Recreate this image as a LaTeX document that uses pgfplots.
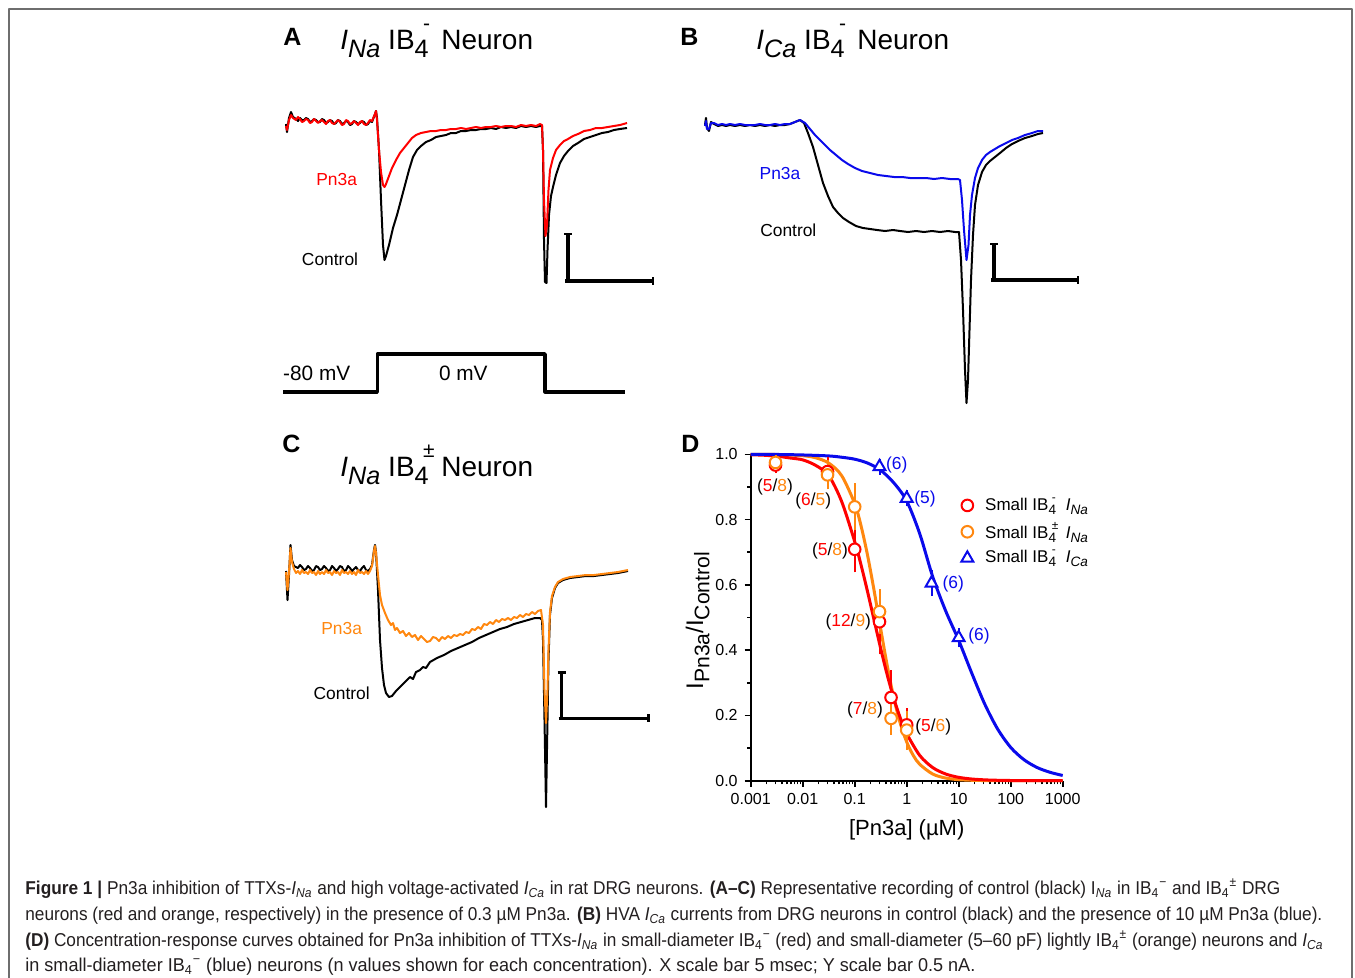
\documentclass[border=0pt]{standalone}
\usepackage{pgfplots}
\pgfplotsset{compat=1.18}
\usepackage{graphicx}
\usepackage{fontspec}
\setmainfont{Liberation Sans}
\definecolor{ored}{RGB}{255,0,0}
\definecolor{oorange}{RGB}{255,135,15}
\definecolor{oblue}{RGB}{10,10,235}
\definecolor{capgray}{RGB}{35,31,32}
\definecolor{framegray}{RGB}{110,110,110}
\newcommand\tsub[1]{\raisebox{-0.45ex}{\scalebox{0.8}{#1}}}
\newcommand\tsup[1]{\raisebox{1.0ex}{\scalebox{0.7}{#1}}}
\newcommand\stk[2]{\makebox[0pt][l]{\hspace{0.2em}\tsup{#1}}\tsub{#2}}
\newcommand\Tsub[1]{\raisebox{-0.55ex}{\scalebox{0.9}{#1}}}
\newcommand\Tsup[1]{\raisebox{1.25ex}{\scalebox{0.75}{#1}}}
\newcommand\Tstk[2]{\makebox[0pt][l]{\hspace{0.3em}\Tsup{#1}}\Tsub{#2}}
\newcommand\lfont{\fontsize{8.7}{10}\selectfont}
\newcommand\tfont{\fontsize{14}{16}\selectfont}
\newcommand\pfont{\fontsize{12.5}{14}\selectfont\bfseries}
\newsavebox\capbox
\newcommand\fitline[2]{\sbox\capbox{#2}\pgfmathsetmacro\capr{#1/\the\wd\capbox}\scalebox{\capr}[1]{\usebox\capbox}}
\newcommand\Ina{\textit{I}\textsubscript{\textit{Na}}}
\newcommand\Ica{\textit{I}\textsubscript{\textit{Ca}}}
\newcommand\IBm{IB\textsubscript{4}\textsuperscript{−}}
\newcommand\IBpm{IB\textsubscript{4}\textsuperscript{±}}
\begin{document}
\begin{tikzpicture}
\begin{axis}[at={(0,0)}, anchor=north west, scale only axis,
  width=677.5pt, height=489pt, xmin=0, xmax=1355, ymin=0, ymax=978,
  y dir=reverse, hide axis, clip=false, no markers,
  every axis plot/.append style={line join=round}]
% frame
\addplot[framegray, line width=0.6pt] coordinates {(9,978) (9,9) (1352,9) (1352,978)};
% ---------- panel A ----------
\addplot[black, line width=1pt] coordinates {
(286,124) (287,132) (289,118) (291,112) (293,117) (296,119) (298,121) (300,118) (302,120) (304,120) (306,118) (308,119)
(310,122) (312,121) (314,119) (316,120) (318,122) (320,122) (322,119) (324,120) (326,123) (328,122) (330,120) (332,121) (334,124) (336,123) (338,120) (340,121) (342,124) (344,123)
(346,121) (348,122) (350,125) (352,124) (354,121) (356,122) (358,124) (360,123) (362,121) (364,122) (366,125) (368,124) (370,121) (372,122) (375,114) (376,111)
(377,118) (379,150) (381,200) (383,245) (384.5,260) (386,256) (389,245) (393,228) (397,215)
(401,200) (405,185) (409,170) (413,157) (417,150) (421,146) (426,142) (431,140) (436,137)
(441,136) (446,135) (451,133) (456,133) (461,131) (466,131) (471,130) (476,130) (481,129)
(486,129) (491,128) (496,129) (501,127) (506,128) (511,127) (516,128) (521,126) (526,127)
(531,126) (536,127) (540,126) (542,126) (543,150) (544,240) (545,282) (546.5,283) (547.5,250)
(549,215) (551,196) (553,187) (556,175) (560,163) (564,156) (568,151) (573,146) (578,143)
(584,139) (590,137) (596,135) (602,133) (608,132) (614,130) (620,129) (627,128)};
\addplot[ored, line width=1pt] coordinates {
(286,126) (287,130) (289,120) (291,115) (293,118) (296,120) (298,117) (300,119) (302,122) (304,121) (306,119) (308,120)
(310,123) (312,122) (314,119) (316,121) (318,123) (320,121) (322,120) (324,122) (326,124) (328,121) (330,120) (332,123) (334,124) (336,122) (338,120) (340,122) (342,125) (344,124)
(346,120) (348,121) (350,124) (352,123) (354,121) (356,123) (358,125) (360,122) (362,121) (364,124) (366,125) (368,123) (370,120) (372,121) (375,114) (376,111)
(377,120) (379,150) (381,172) (383,185) (384.5,187) (386,184) (389,176) (392,168) (396,160)
(400,153) (404,148) (408,143) (412,138) (416,135) (421,133) (426,132) (431,131) (436,131)
(441,130) (446,130) (451,129) (456,129) (461,128) (466,129) (471,128) (476,127) (481,128)
(486,127) (491,127) (496,126) (501,127) (506,126) (511,126) (516,127) (521,125) (526,126)
(531,125) (536,126) (540,124) (542,125) (543,150) (544,200) (545.5,236) (547,225) (548.5,190)
(550,170) (553,158) (556,150) (560,145) (564,141) (568,139) (573,136) (578,134) (584,131)
(590,130) (596,128) (602,128) (608,127) (614,126) (620,125) (627,123)};
% scale bar A
\addplot[black, line width=1.7pt] coordinates {(568,234) (568,281)};
\addplot[black, line width=1.7pt] coordinates {(565,281) (653,281)};
\addplot[black, line width=1.4pt] coordinates {(564,234) (572,234)};
\addplot[black, line width=1.4pt] coordinates {(653,277) (653,285)};
% voltage step
\addplot[black, line width=1.8pt] coordinates {(283,391.7) (377.3,391.7) (377.3,354) (545,354) (545,391.7) (625,391.7)};
\node[font=\fontsize{10.4}{12}\selectfont] at (axis cs:316.7,373.3) {-80 mV};
\node[font=\fontsize{10.4}{12}\selectfont] at (axis cs:463.3,373.3) {0 mV};
\node[font=\lfont, text=ored] at (axis cs:336.7,180) {Pn3a};
\node[font=\lfont] at (axis cs:330,259) {Control};
% ---------- panel B ----------
\addplot[black, line width=1pt] coordinates {
(705,125) (706,118) (707,128) (709,131) (711,122) (714,124) (718,126) (722,125) (726,126)
(730,125) (735,126) (740,125) (745,126) (750,125) (755,126) (760,125) (765,126) (770,125)
(775,126) (780,125) (785,125) (790,124) (795,122) (800,120) (804,123) (808,133) (813,147)
(818,165) (823,183) (828,196) (833,207) (838,213) (843,218) (849,222) (856,226) (863,228)
(870,229) (877,230) (885,231) (893,230) (900,231) (908,232) (916,231) (924,232) (932,231)
(940,232) (948,231) (955,232) (959,232) (961,260) (963,310) (965,370) (966.5,403) (968,380)
(969.5,330) (971,280) (973,235) (975,205) (978,185) (982,172) (986,165) (990,161) (995,157)
(1000,153) (1006,148) (1012,144) (1018,141) (1025,138) (1032,136) (1038,134) (1043,133)};
\addplot[oblue, line width=1pt] coordinates {
(705,126) (706,121) (707,129) (709,129) (711,123) (714,123) (718,125) (722,124) (726,125)
(730,124) (735,125) (740,124) (745,125) (750,125) (755,125) (760,124) (765,125) (770,125)
(775,124) (780,125) (785,124) (790,124) (795,122) (800,120) (805,123) (810,129) (815,135)
(820,140) (825,145) (830,150) (836,155) (842,160) (848,164) (855,168) (862,171) (870,173)
(878,175) (886,176) (894,177) (902,177) (910,178) (918,178) (926,178) (934,179) (942,178)
(950,179) (958,179) (960,180) (962,200) (964,230) (966.5,260) (968.5,245) (970,215) (972,195)
(975,178) (978,168) (982,160) (986,155) (990,152) (995,149) (1000,146) (1006,143) (1012,140)
(1018,138) (1025,135) (1032,133) (1038,131) (1043,131)};
\addplot[black, line width=1.7pt] coordinates {(994,244) (994,280)};
\addplot[black, line width=1.7pt] coordinates {(991,280) (1078,280)};
\addplot[black, line width=1.4pt] coordinates {(990,244) (998,244)};
\addplot[black, line width=1.4pt] coordinates {(1078,276) (1078,284)};
\node[font=\lfont, text=oblue] at (axis cs:780,173.3) {Pn3a};
\node[font=\lfont] at (axis cs:788.3,230) {Control};
% ---------- panel C ----------
\addplot[black, line width=1pt] coordinates {
(286,571) (287.5,600) (289,575) (290.5,545) (292,560) (294,566) (298,568) (300,565) (302,567) (304,570) (306,569)
(308,566) (310,568) (312,571) (314,570) (316,566) (318,567) (320,570) (322,569) (324,566) (326,568) (328,571) (330,570) (332,566) (334,568) (336,571) (338,569) (340,566) (342,567)
(344,571) (346,570) (348,566) (350,568) (352,571) (354,569) (356,567) (358,570) (360,571) (362,568) (364,566) (366,570) (368,571) (370,569) (372,565) (374,550)
(375,545) (376,552) (378,590) (380,640) (382,668) (384,685) (386,693) (389,697) (392,696)
(396,691) (400,687) (405,682) (410,677) (413,679) (416,672) (420,670) (423,667) (426,668) (430,662) (437,658) (444,655)
(451,651) (458,648) (465,645) (472,642) (479,638) (486,635) (493,632) (500,629) (507,627)
(514,624) (521,622) (528,620) (535,618) (540,618) (542,620) (543,640) (544.5,720) (546,807)
(547.5,720) (548.5,660) (550,615) (552,598) (555,588) (558,583) (563,580) (570,578) (578,577)
(586,576) (594,576) (602,575) (610,574) (618,573) (628,571)};
\addplot[oorange, line width=1pt] coordinates {
(286,572) (287.5,590) (289,572) (290.5,548) (292,562) (294,569) (296,573) (298,571) (300,574) (302,570) (304,573) (306,572)
(308,574) (310,570) (312,573) (314,572) (316,575) (318,571) (320,574) (322,572) (324,574) (326,570) (328,573) (330,572) (332,575) (334,571) (336,573) (338,572) (340,575) (342,570)
(344,573) (346,572) (348,574) (350,571) (352,574) (354,572) (356,575) (358,570) (360,573) (362,572) (364,574) (366,571) (368,574) (370,571) (372,566) (374,551)
(375,546) (376,553) (378,575) (380,595) (382,605) (385,613) (388,620) (391,625) (393,623) (395,630) (397,628)
(400,633) (403,631) (406,636) (409,633) (412,637) (415,635) (418,640) (421,636) (424,639) (427,642) (430,641) (433,637) (436,638) (439,641) (442,637) (445,639) (448,636)
(451,638) (454,635) (457,636) (460,634) (463,635) (466,632) (469,633) (472,629) (475,630) (478,627) (481,629) (484,624) (487,625) (490,622) (493,624) (496,620) (499,622) (502,619)
(505,620) (508,618) (511,620) (514,617) (517,618) (520,615) (523,617) (526,614) (529,615) (532,612) (535,614) (538,611) (541,610) (543,625) (544.5,690)
(546,723) (547.5,690) (548.5,650) (550,612) (552,596) (555,587) (558,582) (563,579) (570,577)
(578,576) (586,575) (594,575) (602,574) (610,573) (618,572) (628,570)};
\addplot[black, line width=1.7pt] coordinates {(561.7,672.7) (561.7,718.3)};
\addplot[black, line width=1.7pt] coordinates {(558.7,718.3) (648.3,718.3)};
\addplot[black, line width=1.4pt] coordinates {(557.7,672.7) (565.7,672.7)};
\addplot[black, line width=1.4pt] coordinates {(648.3,714.3) (648.3,722.3)};
\node[font=\lfont, text=oorange] at (axis cs:341.7,628.3) {Pn3a};
\node[font=\lfont] at (axis cs:341.7,693.3) {Control};
% ---------- panel letters and titles ----------
\begin{scope}[every node/.style={anchor=base west, inner sep=0pt}]
\node[font=\pfont] at (axis cs:283,45.5) {A};
\node[font=\pfont] at (axis cs:680,45.5) {B};
\node[font=\pfont] at (axis cs:282,452.5) {C};
\node[font=\pfont] at (axis cs:681,452.5) {D};
\node[font=\tfont] at (axis cs:340,49) {\textit{I}\Tsub{\textit{Na}}\hspace{0.28em}IB\Tstk{-}{4}\hspace{0.45em}Neuron};
\node[font=\tfont] at (axis cs:756,49) {\textit{I}\Tsub{\textit{Ca}}\hspace{0.28em}IB\Tstk{-}{4}\hspace{0.45em}Neuron};
\node[font=\tfont] at (axis cs:340,476) {\textit{I}\Tsub{\textit{Na}}\hspace{0.28em}IB\Tstk{±}{4}\hspace{0.45em}Neuron};
\end{scope}
% ---------- panel D annotations ----------
\node[font=\lfont] at (axis cs:775,487.3) {(\textcolor{ored}{5}/\textcolor{oorange}{8})};
\node[font=\lfont] at (axis cs:813.3,500.7) {(\textcolor{ored}{6}/\textcolor{oorange}{5})};
\node[font=\lfont] at (axis cs:830,550.7) {(\textcolor{ored}{5}/\textcolor{oorange}{8})};
\node[font=\lfont] at (axis cs:848.3,621.7) {(\textcolor{ored}{12}/\textcolor{oorange}{9})};
\node[font=\lfont] at (axis cs:865,710) {(\textcolor{ored}{7}/\textcolor{oorange}{8})};
\node[font=\lfont] at (axis cs:933.3,726.7) {(\textcolor{ored}{5}/\textcolor{oorange}{6})};
\node[font=\lfont, text=oblue] at (axis cs:896.7,465) {(6)};
\node[font=\lfont, text=oblue] at (axis cs:925,499.3) {(5)};
\node[font=\lfont, text=oblue] at (axis cs:953.3,584.3) {(6)};
\node[font=\lfont, text=oblue] at (axis cs:979,636) {(6)};
% ---------- caption ----------
\begin{scope}[every node/.style={anchor=base west, inner sep=0pt, text=capgray, font=\fontsize{9.3}{11}\selectfont}]
\node at (axis cs:25,894.5) {\fitline{627.5}{\textbf{Figure 1 |} Pn3a inhibition of TTXs-\Ina\ and high voltage-activated \Ica\ in rat DRG neurons. \textbf{(A–C)} Representative recording of control (black) I\textsubscript{\textit{Na}} in \IBm\ and \IBpm\ DRG}};
\node at (axis cs:25,920.5) {\fitline{648.5}{neurons (red and orange, respectively) in the presence of 0.3 µM Pn3a. \textbf{(B)} HVA \Ica\ currents from DRG neurons in control (black) and the presence of 10 µM Pn3a (blue).}};
\node at (axis cs:25,946.5) {\fitline{649}{\textbf{(D)} Concentration-response curves obtained for Pn3a inhibition of TTXs-\Ina\ in small-diameter \IBm\ (red) and small-diameter (5–60 pF) lightly \IBpm\ (orange) neurons and \Ica}};
\node at (axis cs:25,971.5) {\fitline{475}{in small-diameter \IBm\ (blue) neurons (n values shown for each concentration). X scale bar 5 msec; Y scale bar 0.5 nA.}};
\end{scope}
\coordinate (dorig) at (axis cs:750.7,780.7);
\end{axis}
% ---------- panel D axis ----------
\begin{axis}[at={(dorig)}, anchor=south west, scale only axis,
  width=156pt, height=163.2pt,
  xmode=log, xmin=0.001, xmax=1000, ymin=0, ymax=1,
  axis x line*=bottom, axis y line*=left, clip=false,
  xtick={0.001,0.01,0.1,1,10,100,1000},
  xticklabels={0.001,0.01,0.1,1,10,100,1000},
  minor xtick={0.002,0.003,0.004,0.005,0.006,0.007,0.008,0.009,
    0.02,0.03,0.04,0.05,0.06,0.07,0.08,0.09,0.2,0.3,0.4,0.5,0.6,0.7,0.8,0.9,
    2,3,4,5,6,7,8,9,20,30,40,50,60,70,80,90,200,300,400,500,600,700,800,900},
  ytick={0,0.2,0.4,0.6,0.8,1},
  yticklabels={0.0,0.2,0.4,0.6,0.8,1.0},
  minor ytick={0.1,0.3,0.5,0.7,0.9},
  tick align=outside, major tick length=3pt, minor tick length=1.8pt,
  axis line style={line width=1pt},
  every tick/.style={black, line width=0.8pt},
  tick label style={font=\fontsize{8}{9}\selectfont},
  /pgf/number format/assume math mode=true,
  xlabel={[Pn3a] (µM)},
  ylabel={I\raisebox{-0.5ex}{\scalebox{0.88}{Pn3a}}/I\raisebox{-0.5ex}{\scalebox{0.88}{Control}}},
  label style={font=\fontsize{11}{12}\selectfont},
  ylabel style={font=\fontsize{12}{13}\selectfont, at={(axis description cs:-0.17,0.49)}, anchor=center},
  xlabel style={at={(axis description cs:0.5,-0.15)}, anchor=center},
  legend style={draw=none, fill=none, at={(0.655,0.893)}, anchor=north west,
    font=\fontsize{8.5}{10}\selectfont, row sep=0.5pt},
  legend cell align=left]
\addlegendimage{only marks, ored, mark=*, mark size=2.9pt, mark options={fill=white, line width=1pt}}
\addlegendentry{\hspace{4pt}Small IB\stk{-}{4}\hspace{0.3em} \textit{I}\tsub{\textit{Na}}}
\addlegendimage{only marks, oorange, mark=*, mark size=2.9pt, mark options={fill=white, line width=1pt}}
\addlegendentry{\hspace{4pt}Small IB\stk{±}{4}\hspace{0.3em} \textit{I}\tsub{\textit{Na}}}
\addlegendimage{only marks, oblue, mark=triangle*, mark size=3.4pt, mark options={fill=white, line width=1pt}}
\addlegendentry{\hspace{4pt}Small IB\stk{-}{4}\hspace{0.3em} \textit{I}\tsub{\textit{Ca}}}
% fitted curves
\addplot[oorange, line width=1.5pt, smooth, no markers, forget plot] coordinates {
(0.001,0.9999) (0.0031623,0.9993) (0.01,0.9957) (0.017783,0.9893) (0.031623,0.9731)
(0.056234,0.9345) (0.1,0.8488) (0.13335,0.7788) (0.17783,0.6883) (0.23714,0.5808)
(0.31623,0.4650) (0.42170,0.3529) (0.56234,0.2549) (0.74989,0.1767) (1,0.1186)
(1.3335,0.0779) (1.7783,0.0503) (3.1623,0.0204) (5.6234,0.0081) (10,0.0032)
(17.783,0.0013) (31.623,0.0005) (100,0.0001) (1000,0)};
\addplot[ored, line width=1.5pt, smooth, no markers, forget plot] coordinates {
(0.001,0.9986) (0.0017783,0.9972) (0.0031623,0.9944) (0.0056234,0.9889) (0.01,0.983)
(0.017783,0.966) (0.031623,0.935) (0.056234,0.855) (0.1,0.7326) (0.13335,0.6592)
(0.17783,0.5772) (0.23714,0.4908) (0.31623,0.4049) (0.42170,0.3244) (0.56234,0.2532)
(0.74989,0.1931) (1,0.1445) (1.7783,0.0776) (3.1623,0.0403) (5.6234,0.0205) (10,0.0103)
(17.783,0.0052) (31.623,0.0026) (56.234,0.0013) (100,0.0006) (316.23,0.0002) (1000,0)};
\addplot[oblue, line width=1.5pt, smooth, no markers, forget plot] coordinates {
(0.001,1.0) (0.0031623,0.9995) (0.01,0.998) (0.031623,0.995) (0.056234,0.991) (0.1,0.985)
(0.17783,0.973) (0.31623,0.951) (0.56234,0.913) (1,0.857) (1.7783,0.757) (3.1623,0.625)
(5.6234,0.52) (10,0.43) (17.783,0.33) (31.623,0.235) (56.234,0.158) (100,0.102)
(177.83,0.065) (316.23,0.041) (562.34,0.026) (1000,0.016)};
% data points
\addplot[ored, only marks, mark=*, mark size=2.9pt, mark options={fill=white, line width=1pt},
  forget plot, error bars/.cd, y dir=both, y explicit,
  error bar style={line width=1pt}, error mark options={line width=1pt, mark size=2.4pt}]
  coordinates {(0.003,0.967) +- (0,0.01) (0.03,0.947) +- (0,0.03) (0.1,0.709) +- (0,0.056)
  (0.3,0.487) +- (0,0.085) (0.5,0.255) +- (0,0.069) (1,0.171) +- (0,0.036)};
\addplot[oorange, only marks, mark=*, mark size=2.9pt, mark options={fill=white, line width=1pt},
  forget plot, error bars/.cd, y dir=both, y explicit,
  error bar style={line width=1pt}, error mark options={line width=1pt, mark size=2.4pt}]
  coordinates {(0.003,0.975) +- (0,0.008) (0.03,0.937) +- (0,0.03) (0.1,0.839) +- (0,0.057)
  (0.3,0.518) +- (0,0.054) (0.5,0.191) +- (0,0.035) (1,0.155) +- (0,0.045)};
\addplot[oblue, only marks, mark=triangle*, mark size=3.4pt, mark options={fill=white, line width=1pt},
  forget plot, error bars/.cd, y dir=both, y explicit,
  error bar style={line width=1pt}, error mark options={line width=1pt, mark size=2.4pt}]
  coordinates {(0.3,0.962) +- (0,0.01) (1,0.865) +- (0,0.01) (3,0.605) +- (0,0.025) (10,0.438) +- (0,0.015)};
\end{axis}
\pgfresetboundingbox
\path[use as bounding box] (0,0) rectangle (677.5pt,-489pt);
\end{tikzpicture}
\end{document}
